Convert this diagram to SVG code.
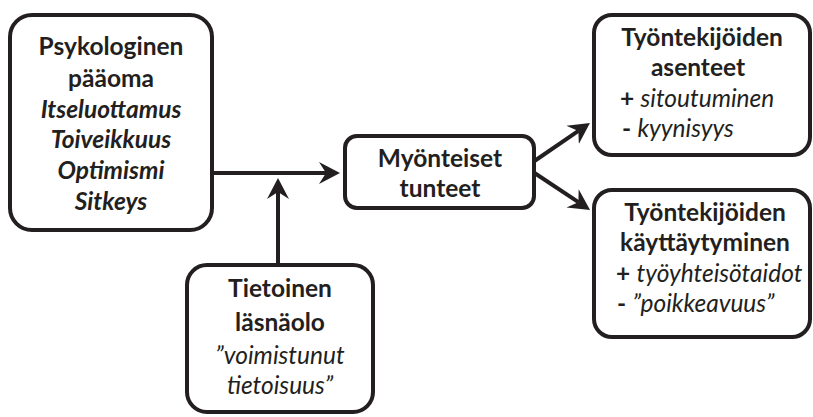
<svg xmlns="http://www.w3.org/2000/svg" width="813" height="417" viewBox="0 0 813 417">
  <style>
    .box { fill: #ffffff; stroke: #231f20; stroke-width: 4; }
    .edge { fill: none; stroke: #231f20; stroke-width: 4; }
    text { font-family: Lato, "Liberation Sans", sans-serif; fill: #231f20; font-size: 24.5px; }
    .c { text-anchor: middle; }
    .b { font-weight: bold; }
    .i { font-style: italic; }
  </style>
  <defs>
    <!-- notched arrowhead, reference point at the notch -->
    <marker id="arrow" markerUnits="userSpaceOnUse" viewBox="0 -12 22 24" refX="7" refY="0" markerWidth="22" markerHeight="24" orient="auto">
      <path d="M0,-11 L21,0 L0,11 L7,0 Z" fill="#231f20"/>
    </marker>
  </defs>

  <!-- connectors -->
  <g id="connectors">
    <line class="edge" x1="212" y1="173" x2="326" y2="173" marker-end="url(#arrow)"/>
    <line class="edge" x1="278" y1="265" x2="278" y2="192" marker-end="url(#arrow)"/>
    <line class="edge" x1="533" y1="162" x2="578.4" y2="130.9" marker-end="url(#arrow)"/>
    <line class="edge" x1="533" y1="172" x2="578.4" y2="202.2" marker-end="url(#arrow)"/>
  </g>

  <!-- psychological capital -->
  <g id="psykologinen-paaoma">
    <rect class="box" x="10" y="15" width="202" height="215" rx="22"/>
    <text class="c b" x="111" y="55">Psykologinen</text>
    <text class="c b" x="111" y="87">pääoma</text>
    <text class="c b i" x="111" y="118">Itseluottamus</text>
    <text class="c b i" x="111" y="148">Toiveikkuus</text>
    <text class="c b i" x="111" y="179">Optimismi</text>
    <text class="c b i" x="111" y="210">Sitkeys</text>
  </g>

  <!-- mindfulness -->
  <g id="tietoinen-lasnaolo">
    <rect class="box" x="187" y="265" width="186" height="147" rx="20"/>
    <text class="c b" x="280" y="297">Tietoinen</text>
    <text class="c b" x="280" y="331">läsnäolo</text>
    <text class="c i" x="280" y="364">”voimistunut</text>
    <text class="c i" x="280" y="394">tietoisuus”</text>
  </g>

  <!-- positive emotions -->
  <g id="myonteiset-tunteet">
    <rect class="box" x="345" y="136" width="189" height="72" rx="12"/>
    <text class="c b" x="440" y="167">Myönteiset</text>
    <text class="c b" x="440" y="197">tunteet</text>
  </g>

  <!-- employee attitudes -->
  <g id="asenteet">
    <rect class="box" x="594" y="15" width="216" height="140" rx="18"/>
    <text class="c b" x="702" y="46">Työntekijöiden</text>
    <text class="c b" x="698" y="76">asenteet</text>
    <text x="620" y="107"><tspan class="b">+</tspan> <tspan class="i">sitoutuminen</tspan></text>
    <text x="622" y="137"><tspan class="b">-</tspan> <tspan class="i">kyynisyys</tspan></text>
  </g>

  <!-- employee behaviour -->
  <g id="kayttaytyminen">
    <rect class="box" x="594" y="190" width="216" height="147" rx="18"/>
    <text class="c b" x="705" y="221">Työntekijöiden</text>
    <text class="c b" x="705" y="251">käyttäytyminen</text>
    <text x="616" y="282"><tspan class="b">+</tspan> <tspan class="i">työyhteisötaidot</tspan></text>
    <text x="617" y="312"><tspan class="b">-</tspan> <tspan class="i">”poikkeavuus”</tspan></text>
  </g>
</svg>
